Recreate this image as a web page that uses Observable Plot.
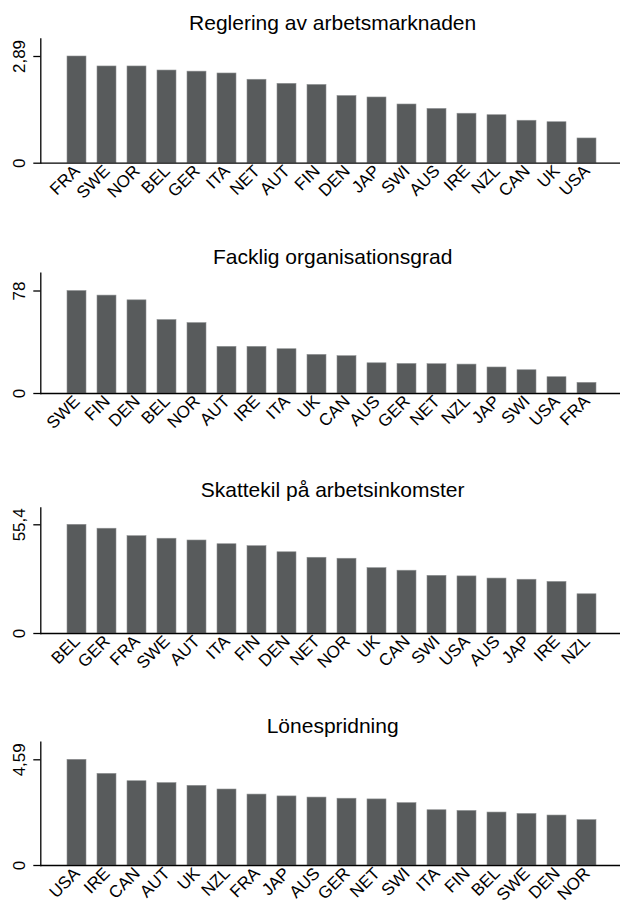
<!DOCTYPE html>
<html><head><meta charset="utf-8">
<script src="https://cdn.jsdelivr.net/npm/d3@7"></script>
<script src="https://cdn.jsdelivr.net/npm/@observablehq/plot@0.6"></script>
<style>
body{margin:0;background:#fff;}
#chart{width:620px;height:901px;overflow:hidden;}
svg{display:block;}
</style></head><body><div id="chart"></div>
<script>
const titles = ["Reglering av arbetsmarknaden", "Facklig organisationsgrad", "Skattekil på arbetsinkomster", "Lönespridning"];

const countries1 = ["FRA","SWE","NOR","BEL","GER","ITA","NET","AUT","FIN","DEN","JAP","SWI","AUS","IRE","NZL","CAN","UK","USA"];
const values1 = [2.89,2.62,2.62,2.51,2.48,2.43,2.26,2.15,2.12,1.82,1.78,1.59,1.47,1.34,1.30,1.15,1.11,0.67];

const countries2 = ["SWE","FIN","DEN","BEL","NOR","AUT","IRE","ITA","UK","CAN","AUS","GER","NET","NZL","JAP","SWI","USA","FRA"];
const values2 = [78,74.5,70.9,55.9,53.6,35.5,35.5,33.7,29.4,28.4,23.0,22.5,22.3,22.0,19.8,17.7,12.4,8.1];

const countries3 = ["BEL","GER","FRA","SWE","AUT","ITA","FIN","DEN","NET","NOR","UK","CAN","SWI","USA","AUS","JAP","IRE","NZL"];
const values3 = [55.4,53.4,49.6,48.3,47.4,45.5,44.5,41.4,38.6,38.1,33.3,32.0,29.4,29.1,28.0,27.4,26.3,20.0];

const countries4 = ["USA","IRE","CAN","AUT","UK","NZL","FRA","JAP","AUS","GER","NET","SWI","ITA","FIN","BEL","SWE","DEN","NOR"];
const values4 = [4.59,3.98,3.66,3.58,3.46,3.30,3.08,3.00,2.95,2.90,2.87,2.71,2.40,2.37,2.30,2.24,2.17,1.97];

const tickMax = [2.89, 78, 55.4, 4.59];

const countryLists = [countries1, countries2, countries3, countries4];
const valueLists = [values1, values2, values3, values4];

// layout (pixels)
const layouts = [
  {h: 230, titleY: 29.3, top: 38.3, tick: 56,   base: 162.7},
  {h: 235, titleY: 33.3, top: 42.7, tick: 60.5, base: 163},
  {h: 235, titleY: 31.7, top: 42.3, tick: 59.3, base: 168},
  {h: 201, titleY: 32,   top: 41.7, tick: 59.3, base: 165}
];

const font = "'Liberation Sans', Arial, Helvetica, sans-serif";
const fmt = d => d === 0 ? "0" : String(d).replace(".", ",");

const chart = document.getElementById("chart");
for (let i = 0; i < 4; i++) {
  const L = layouts[i];
  const data = countryLists[i].map((c, j) => ({c, v: valueLists[i][j]}));
  const svg = Plot.plot({
    width: 620,
    height: L.h,
    marginLeft: 40.3,
    marginRight: 0,
    marginTop: L.top,
    marginBottom: L.h - L.base,
    style: {fontFamily: font, fontSize: "17px", color: "#000", background: "#fff", overflow: "visible"},
    x: {domain: countryLists[i], range: [61.3, 602.5], paddingInner: 0.37, paddingOuter: 0, label: null},
    y: {domain: [0, tickMax[i]], range: [L.base, L.tick], label: null},
    marks: [
      Plot.barY(data, {x: "c", y: "v", fill: "#585b5c", stroke: "#8f9293", strokeWidth: 0.6}),
      Plot.frame({anchor: "left", stroke: "#000", strokeWidth: 1.3}),
      Plot.ruleY([0], {stroke: "#000", strokeWidth: 1.3}),
      Plot.axisY({ticks: [0, tickMax[i]], tickSize: 7, tickPadding: 9, tickRotate: -90, tickFormat: fmt, fontSize: 17, label: null, strokeWidth: 1.3}),
      Plot.axisX({tickSize: 0, tickPadding: 5, tickRotate: -45, fontSize: 17, label: null}),
      Plot.text([titles[i]], {frameAnchor: "top", dx: 2, dy: L.titleY - L.top, lineAnchor: "bottom", fontSize: 21, fill: "#000"})
    ]
  });
  chart.appendChild(svg);
}
</script>
</body></html>
